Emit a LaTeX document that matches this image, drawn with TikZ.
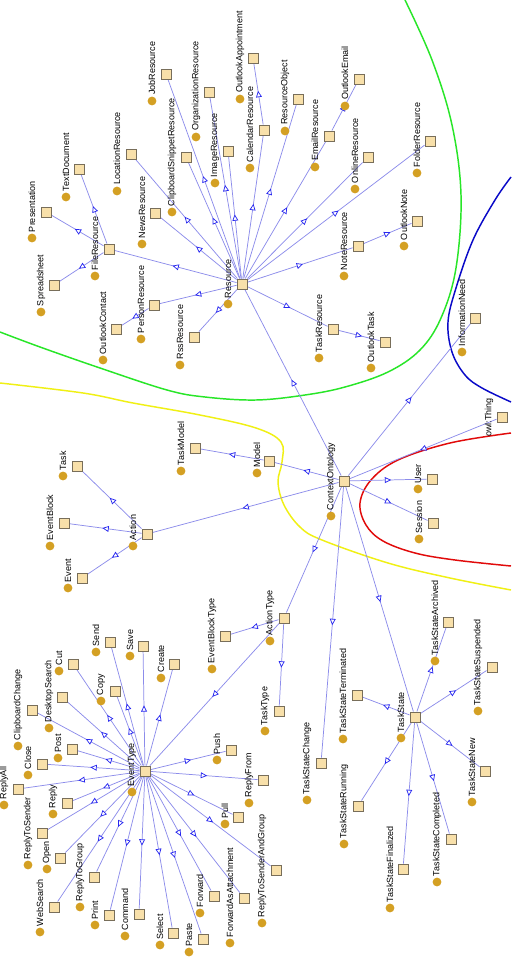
\documentclass[tikz,border=0pt]{standalone}
\usepackage{fontspec}
\setmainfont{Liberation Sans}
\usetikzlibrary{arrows.meta,decorations.markings}
\pgfdeclarelayer{bg}
\pgfsetlayers{bg,main}
\definecolor{edgec}{RGB}{140,140,235}
\definecolor{arrc}{RGB}{40,40,240}
\definecolor{sqfill}{RGB}{248,224,170}
\definecolor{sqdraw}{RGB}{120,110,90}
\definecolor{dotc}{RGB}{212,160,35}
\definecolor{cgreen}{RGB}{40,230,40}
\definecolor{cblue}{RGB}{10,10,200}
\definecolor{cred}{RGB}{225,10,10}
\definecolor{cyellow}{RGB}{240,240,20}
\tikzset{
  sq/.style={draw=sqdraw,fill=sqfill,minimum size=7.5pt,inner sep=0pt,line width=0.7pt},
  dt/.style={circle,fill=dotc,minimum size=6.6pt,inner sep=0pt},
  lbl/.style={rotate=90,anchor=west,inner sep=0pt},
  edge/.style={draw=edgec,line width=0.55pt,postaction={decorate,decoration={markings,
     mark=at position 0.5 with {\arrow[xshift=2.4pt]{Triangle[length=4.8pt,width=4.4pt,color=arrc,fill=white,line width=0.55pt]}}}}},
  curve/.style={line width=1.1pt}
}
\newcommand\mknode[6]{%
  \node[sq] (#1) at (#2,#3) {};
  \node[dt] (#1-d) at (#4,#5) {};
  \node[lbl] (#1-l) at ([yshift=4.3pt]#1-d.center) {#6};
}
\newcommand\ed[2]{\draw[edge] (#1) -- (#2);}
\begin{document}
\begin{tikzpicture}[x=0.75pt,y=-0.75pt,font=\fontsize{6.75}{8}\selectfont]
\useasboundingbox (0,0) rectangle (511,963);

% Resource group
\mknode{Resource}{242}{284}{228}{304}{Resource}
\mknode{FileResource}{109}{249}{95}{276}{FileResource}
\mknode{Presentation}{46}{212}{32}{238}{Presentation}
\mknode{Spreadsheet}{54}{285}{41}{312}{Spreadsheet}
\mknode{TextDocument}{79}{169}{66}{197}{TextDocument}
\mknode{PersonResource}{154}{305}{141}{339}{PersonResource}
\mknode{OutlookContact}{116}{329}{103}{360}{OutlookContact}
\mknode{RssResource}{194}{337}{180}{365}{RssResource}
\mknode{NewsResource}{155}{213}{142}{244}{NewsResource}
\mknode{LocationResource}{131}{154}{117}{191}{LocationResource}
\mknode{ClipboardSnippetResource}{186}{157}{172}{212}{ClipboardSnippetResource}
\mknode{JobResource}{166}{74}{152}{101}{JobResource}
\mknode{OrganizationResource}{209}{92}{196}{137}{OrganizationResource}
\mknode{ImageResource}{228}{151}{215}{183}{ImageResource}
\mknode{CalendarResource}{264}{130}{250}{168}{CalendarResource}
\mknode{OutlookAppointment}{253}{58}{240}{99}{OutlookAppointment}
\mknode{ResourceObject}{298}{99}{285}{131}{ResourceObject}
\mknode{EmailResource}{329}{136}{315}{167}{EmailResource}
\mknode{OutlookEmail}{359}{79}{345}{106}{OutlookEmail}
\mknode{OnlineResource}{368}{157}{355}{189}{OnlineResource}
\mknode{FolderResource}{430}{141}{417}{173}{FolderResource}
\mknode{NoteResource}{358}{246}{344}{276}{NoteResource}
\mknode{OutlookNote}{417}{221}{404}{246}{OutlookNote}
\mknode{TaskResource}{333}{329}{319}{358}{TaskResource}
\mknode{OutlookTask}{385}{342}{371}{368}{OutlookTask}

% Context
\mknode{ContextOntology}{344}{481}{331}{516}{ContextOntology}
\node[sq] (owl) at (502,417) {};
\node[lbl] (owl-l) at (489,437) {owl:Thing};
\mknode{InformationNeed}{475}{318}{462}{352}{InformationNeed}
\mknode{User}{432}{479}{418}{489}{User}
\mknode{Session}{433}{523}{419}{539}{Session}
\mknode{Model}{269}{461}{257}{473}{Model}
\mknode{TaskModel}{195}{448}{181}{471}{TaskModel}
\mknode{Action}{147}{534}{133}{546}{Action}
\mknode{Task}{77}{466}{63}{476}{Task}
\mknode{EventBlock}{64}{523}{50}{546}{EventBlock}
\mknode{Event}{82}{578}{68}{588}{Event}
\mknode{ActionType}{284}{618}{270}{641}{ActionType}
\mknode{EventBlockType}{225}{636}{212}{669}{EventBlockType}
\mknode{TaskType}{279}{711}{265}{731}{TaskType}
\mknode{EventType}{145}{771}{132}{792}{EventType}
\mknode{TaskStateChange}{321}{763}{307}{800}{TaskStateChange}
\mknode{TaskState}{415}{717}{401}{738}{TaskState}
\mknode{TaskStateTerminated}{357}{695}{343}{739}{TaskStateTerminated}
\mknode{TaskStateArchived}{448}{622}{435}{661}{TaskStateArchived}
\mknode{TaskStateSuspended}{492}{667}{478}{711}{TaskStateSuspended}
\mknode{TaskStateNew}{485}{771}{472}{802}{TaskStateNew}
\mknode{TaskStateRunning}{358}{806}{344}{844}{TaskStateRunning}
\mknode{TaskStateFinalized}{403}{869}{390}{908}{TaskStateFinalized}
\mknode{TaskStateCompleted}{451}{839}{437}{882}{TaskStateCompleted}

% EventType children
\mknode{Send}{110}{642}{96}{652}{Send}
\mknode{Save}{143}{646}{130}{656}{Save}
\mknode{Create}{174}{664}{161}{678}{Create}
\mknode{Cut}{73}{664}{59}{671}{Cut}
\mknode{Copy}{115}{691}{101}{701}{Copy}
\mknode{DesktopSearch}{62}{697}{49}{728}{DesktopSearch}
\mknode{ClipboardChange}{32}{710}{18}{746}{ClipboardChange}
\mknode{Post}{72}{749}{58}{758}{Post}
\mknode{Close}{42}{764}{28}{775}{Close}
\mknode{Push}{231}{750}{217}{760}{Push}
\mknode{ReplyAll}{18}{789}{4}{805}{ReplyAll}
\mknode{Reply}{67}{803}{53}{814}{Reply}
\mknode{ReplyToSender}{42}{833}{28}{865}{ReplyToSender}
\mknode{Open}{60}{858}{47}{869}{Open}
\mknode{ReplyToGroup}{94}{877}{80}{907}{ReplyToGroup}
\mknode{WebSearch}{54}{907}{40}{932}{WebSearch}
\mknode{Print}{109}{915}{95}{925}{Print}
\mknode{Command}{139}{914}{125}{936}{Command}
\mknode{Select}{173}{933}{160}{945}{Select}
\mknode{Paste}{203}{939}{189}{952}{Paste}
\mknode{Forward}{214}{896}{200}{913}{Forward}
\mknode{ForwardAsAttachment}{244}{898}{230}{943}{ForwardAsAttachment}
\mknode{Pull}{238}{817}{225}{824}{Pull}
\mknode{ReplyFrom}{263}{780}{249}{803}{ReplyFrom}
\mknode{ReplyToSenderAndGroup}{276}{870}{262}{923}{ReplyToSenderAndGroup}

\begin{pgfonlayer}{bg}
\fill[white] (0,0) rectangle (511,963);
% region curves
\draw[curve,cgreen] plot[smooth,tension=0.6] coordinates {(405,0) (432,60) (452,125) (461,195) (456,268) (441,318) (420,350) (388,372) (345,387) (305,395) (256,400) (205,397) (167,390) (100,368) (40,347) (0,332)};
\draw[curve,cblue] plot[smooth,tension=0.6] coordinates {(511,177) (495,200) (473,240) (456,288) (448,322) (452,352) (465,375) (482,388) (511,402)};
\draw[curve,cred] plot[smooth,tension=0.6] coordinates {(511,433) (450,443) (398,460) (371,480) (360,503) (366,525) (383,541) (415,553) (455,560) (511,566)};
\draw[curve,cyellow] plot[smooth,tension=0.6] coordinates {(0,383) (83,393) (133,403) (200,415) (256,428) (281,442) (282,462) (278,482) (284,505) (300,527) (322,540) (388,563) (450,578) (511,590)};

% edges
\ed{Resource}{FileResource}
\ed{Resource}{PersonResource}
\ed{Resource}{RssResource}
\ed{Resource}{NewsResource}
\ed{Resource}{LocationResource}
\ed{Resource}{ClipboardSnippetResource}
\ed{Resource}{JobResource}
\ed{Resource}{OrganizationResource}
\ed{Resource}{ImageResource}
\ed{Resource}{CalendarResource}
\ed{Resource}{ResourceObject}
\ed{Resource}{EmailResource}
\ed{Resource}{OnlineResource}
\ed{Resource}{FolderResource}
\ed{Resource}{NoteResource}
\ed{Resource}{TaskResource}
\ed{FileResource}{Presentation}
\ed{FileResource}{Spreadsheet}
\ed{FileResource}{TextDocument}
\ed{PersonResource}{OutlookContact}
\ed{CalendarResource}{OutlookAppointment}
\ed{EmailResource}{OutlookEmail}
\ed{NoteResource}{OutlookNote}
\ed{TaskResource}{OutlookTask}

\ed{owl}{ContextOntology}
\ed{ContextOntology}{Resource}
\ed{ContextOntology}{InformationNeed}
\ed{ContextOntology}{User}
\ed{ContextOntology}{Session}
\ed{ContextOntology}{Model}
\ed{ContextOntology}{Action}
\ed{ContextOntology}{ActionType}
\ed{ContextOntology}{TaskStateChange}
\ed{ContextOntology}{TaskState}
\ed{Model}{TaskModel}
\ed{Action}{Task}
\ed{Action}{EventBlock}
\ed{Action}{Event}
\ed{ActionType}{EventBlockType}
\ed{ActionType}{EventType}
\ed{ActionType}{TaskType}

\ed{TaskState}{TaskStateTerminated}
\ed{TaskState}{TaskStateArchived}
\ed{TaskState}{TaskStateSuspended}
\ed{TaskState}{TaskStateNew}
\ed{TaskState}{TaskStateRunning}
\ed{TaskState}{TaskStateFinalized}
\ed{TaskState}{TaskStateCompleted}

\ed{EventType}{Send}
\ed{EventType}{Save}
\ed{EventType}{Create}
\ed{EventType}{Cut}
\ed{EventType}{Copy}
\ed{EventType}{DesktopSearch}
\ed{EventType}{ClipboardChange}
\ed{EventType}{Post}
\ed{EventType}{Close}
\ed{EventType}{Push}
\ed{EventType}{ReplyAll}
\ed{EventType}{Reply}
\ed{EventType}{ReplyToSender}
\ed{EventType}{Open}
\ed{EventType}{ReplyToGroup}
\ed{EventType}{WebSearch}
\ed{EventType}{Print}
\ed{EventType}{Command}
\ed{EventType}{Select}
\ed{EventType}{Paste}
\ed{EventType}{Forward}
\ed{EventType}{ForwardAsAttachment}
\ed{EventType}{Pull}
\ed{EventType}{ReplyFrom}
\ed{EventType}{ReplyToSenderAndGroup}
\end{pgfonlayer}
\end{tikzpicture}
\end{document}
